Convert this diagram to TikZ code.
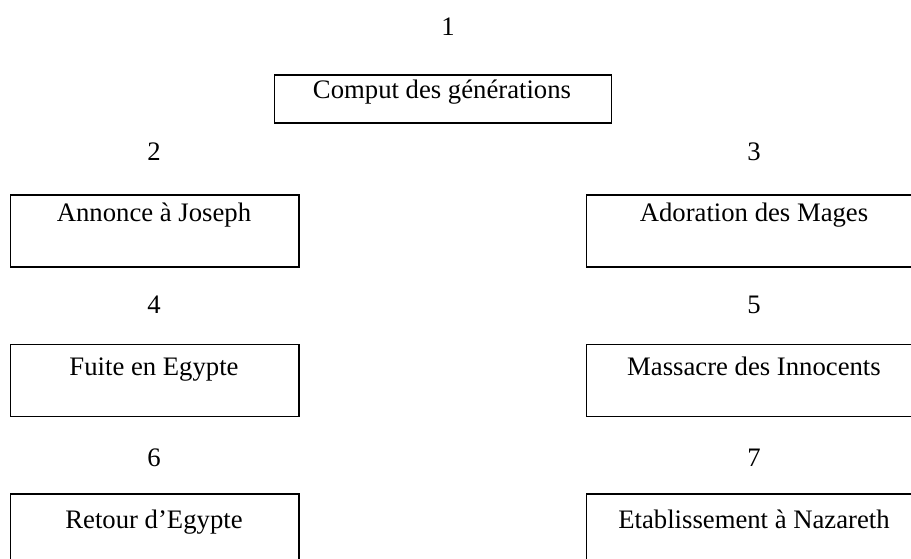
\documentclass[tikz,border=0pt]{standalone}
\usepackage{fontspec}
\setmainfont{Liberation Serif}
\begin{document}
\begin{tikzpicture}[x=1pt,y=-1pt,
  box/.style={draw, line width=1.6pt, rectangle, inner sep=0pt, anchor=north west},
  lbl/.style={anchor=base, inner sep=0pt, font=\fontsize{26.7}{32}\selectfont},
  num/.style={anchor=base, inner sep=0pt, font=\fontsize{26.7}{32}\selectfont}]
\useasboundingbox (0,0) rectangle (911,559);
\clip (0,0) rectangle (911,559);
% numbers
\node[num] (n1) at (448,36) {1};
\node[num] (n2) at (154,161) {2};
\node[num] (n3) at (754,161) {3};
\node[num] (n4) at (154,313.5) {4};
\node[num] (n5) at (754,313.5) {5};
\node[num] (n6) at (154,466) {6};
\node[num] (n7) at (754,466) {7};
% boxes
\node[box, minimum width=337pt, minimum height=48pt] (b1) at (273.5,74) {};
\node[box, minimum width=288.5pt, minimum height=72pt] (b2) at (9.5,194) {};
\node[box, minimum width=337pt, minimum height=72pt] (b3) at (585.5,194) {};
\node[box, minimum width=288.5pt, minimum height=72pt] (b4) at (9.5,343.5) {};
\node[box, minimum width=337pt, minimum height=72pt] (b5) at (585.5,343.5) {};
\node[box, minimum width=288.5pt, minimum height=72pt] (b6) at (9.5,493) {};
\node[box, minimum width=337pt, minimum height=72pt] (b7) at (585.5,493) {};
% labels
\node[lbl] (t1) at (442,99) {Comput des générations};
\node[lbl] (t2) at (154,221.5) {Annonce à Joseph};
\node[lbl] (t3) at (754,221.5) {Adoration des Mages};
\node[lbl] (t4) at (154,375) {Fuite en Egypte};
\node[lbl] (t5) at (754,375) {Massacre des Innocents};
\node[lbl] (t6) at (154,528) {Retour d’Egypte};
\node[lbl] (t7) at (754,528) {Etablissement à Nazareth};
\end{tikzpicture}
\end{document}
